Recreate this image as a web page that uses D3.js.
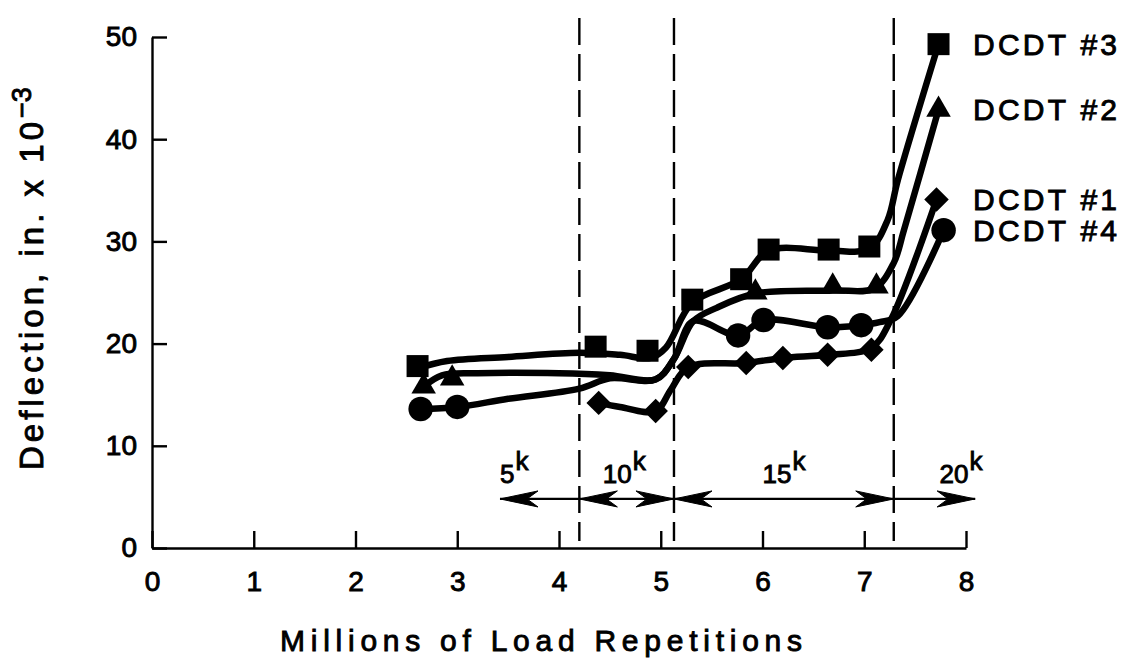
<!DOCTYPE html>
<html>
<head>
<meta charset="utf-8">
<script src="https://cdn.jsdelivr.net/npm/d3@7"></script>
<style>
  html, body { margin: 0; padding: 0; background: #fff; }
  svg { display: block; }
  text { font-family: "Liberation Sans", Arial, Helvetica, sans-serif; fill: #000; }
</style>
</head>
<body>
<svg id="chart" width="1121" height="664"></svg>
<script>
// ---- Axis ticks ----
const xTicks = [0, 1, 2, 3, 4, 5, 6, 7, 8];
const yTicks = [0, 10, 20, 30, 40, 50];

// ---- Sensor names ----
const sensors = ["DCDT #3", "DCDT #2", "DCDT #1", "DCDT #4"];

// ---- Measured deflections (x: millions of repetitions, y: in. x 10^-3) ----
const dcdt3X = [2.61, 4.36, 4.87, 5.31, 5.79, 6.06, 6.65, 7.05, 7.73];
const dcdt3Y = [17.8, 19.7, 19.3, 24.3, 26.3, 29.2, 29.2, 29.5, 49.3];

const dcdt2X = [2.67, 2.95, 5.93, 6.69, 7.12, 7.73];
const dcdt2Y = [15.8, 16.6, 25.0, 25.6, 25.6, 42.9];

const dcdt1X = [4.39, 4.95, 5.27, 5.84, 6.20, 6.64, 7.07, 7.71];
const dcdt1Y = [14.2, 13.4, 17.7, 18.1, 18.6, 18.9, 19.4, 34.1];

const dcdt4X = [2.64, 3.00, 5.76, 6.01, 6.64, 6.97, 7.78];
const dcdt4Y = [13.6, 13.8, 20.8, 22.3, 21.6, 21.8, 31.1];

// ---- Hand-faired trend curves drawn through each sensor's readings ----
const curve3X = [2.61, 2.90, 3.50, 4.20, 4.60, 4.90, 5.05, 5.31, 5.79, 6.06, 6.65, 7.05, 7.23, 7.33, 7.73];
const curve3Y = [17.6, 18.3, 18.7, 19.1, 18.9, 18.6, 19.6, 24.0, 26.3, 29.1, 29.1, 29.3, 32.1, 36.0, 49.3];

const curve2X = [2.67, 2.85, 3.20, 4.00, 4.50, 4.95, 5.13, 5.32, 5.55, 5.93, 6.69, 7.10, 7.29, 7.39, 7.73];
const curve2Y = [15.8, 16.9, 17.1, 17.1, 16.9, 16.5, 18.5, 22.2, 23.5, 24.9, 25.2, 25.4, 27.9, 31.1, 42.9];

const curve1X = [4.39, 4.60, 4.95, 5.10, 5.27, 5.84, 6.20, 6.64, 7.07, 7.26, 7.71];
const curve1Y = [14.2, 13.8, 13.4, 15.5, 17.7, 18.1, 18.6, 18.9, 19.6, 22.3, 34.1];

const curve4X = [2.64, 3.00, 3.50, 4.20, 4.50, 4.95, 5.13, 5.32, 5.76, 6.01, 6.64, 6.97, 7.15, 7.33, 7.78];
const curve4Y = [13.6, 13.8, 14.6, 15.6, 16.6, 16.5, 18.5, 22.2, 20.8, 22.3, 21.6, 21.8, 22.1, 22.7, 31.1];

// ---- Load levels (kips) and the repetition ranges where each was applied ----
const loadLabels = ["5", "10", "15", "20"];
const loadStart = [3.42, 4.20, 5.13, 7.29];
const loadEnd = [4.20, 5.13, 7.29, 8.09];
const loadHeads = ["start", "both", "both", "end"];
const loadLabelX = [3.42, 4.43, 6.00, 7.74];
const loadChanges = [4.20, 5.13, 7.29];
const arrowLevel = 4.8;

// ---- Layout ----
const svg = d3.select("#chart");
const x = d3.scaleLinear().domain([0, 8]).range([152, 966]);
const y = d3.scaleLinear().domain([0, 50]).range([548, 37]);

const tickFont = 28;
const ink = 0.9; // stroke added to glyphs for a heavier print weight

// x axis
const gx = svg.append("g").attr("transform", `translate(0,${y(0)})`)
  .call(d3.axisBottom(x).tickValues(xTicks).tickFormat(d3.format("d"))
    .tickSizeInner(-17).tickSizeOuter(0).tickPadding(23));
// y axis
const gy = svg.append("g").attr("transform", `translate(${x(0)},0)`)
  .call(d3.axisLeft(y).tickValues(yTicks).tickFormat(d3.format("d"))
    .tickSizeInner(-15).tickSizeOuter(0).tickPadding(15));

[gx, gy].forEach(g => {
  g.select(".domain").attr("stroke", "#000").attr("stroke-width", 2.4);
  g.selectAll(".tick line").attr("stroke", "#000").attr("stroke-width", 2.4);
  g.selectAll(".tick text")
    .attr("font-family", "'Liberation Sans', Arial, sans-serif")
    .attr("font-size", tickFont)
    .attr("fill", "#000")
    .attr("stroke", "#000").attr("stroke-width", ink);
});

// dashed lines marking each change of load
svg.append("g").selectAll("line").data(loadChanges).join("line")
  .attr("x1", d => x(d)).attr("x2", d => x(d))
  .attr("y1", 18).attr("y2", 541)
  .attr("stroke", "#000").attr("stroke-width", 2.4)
  .attr("stroke-dasharray", "27,9");

// load range arrows
const arrowY = y(arrowLevel);
const headPath = "M0,0 L38,-8 L27,0 L38,8 Z"; // tip at origin, pointing left
const arrows = svg.append("g");
loadStart.forEach((s, i) => {
  const x0 = x(s), x1 = x(loadEnd[i]);
  arrows.append("line")
    .attr("x1", x0).attr("x2", x1).attr("y1", arrowY).attr("y2", arrowY)
    .attr("stroke", "#000").attr("stroke-width", 2.2);
  if (loadHeads[i] === "start" || loadHeads[i] === "both") {
    arrows.append("path").attr("d", headPath)
      .attr("transform", `translate(${x0},${arrowY})`)
      .attr("fill", "#000").attr("stroke", "#000").attr("stroke-width", 1);
  }
  if (loadHeads[i] === "end" || loadHeads[i] === "both") {
    arrows.append("path").attr("d", headPath)
      .attr("transform", `translate(${x1},${arrowY}) scale(-1,1)`)
      .attr("fill", "#000").attr("stroke", "#000").attr("stroke-width", 1);
  }
  const t = arrows.append("text")
    .attr("x", x(loadLabelX[i])).attr("y", arrowY - 16)
    .attr("font-size", 26)
    .attr("stroke", "#000").attr("stroke-width", ink);
  t.append("tspan").text(loadLabels[i]);
  t.append("tspan").attr("dy", -13).attr("dx", 1).text("k");
});

// trend curves
const line = d3.line()
  .x(d => x(d[0])).y(d => y(d[1]))
  .curve(d3.curveCatmullRom.alpha(0.5));

const curves = [
  [curve3X, curve3Y],
  [curve2X, curve2Y],
  [curve1X, curve1Y],
  [curve4X, curve4Y]
];
svg.append("g").selectAll("path").data(curves).join("path")
  .attr("d", c => line(c[0].map((v, i) => [v, c[1][i]])))
  .attr("fill", "none").attr("stroke", "#000")
  .attr("stroke-width", 6.5).attr("stroke-linejoin", "round").attr("stroke-linecap", "round");

// markers
const series = [
  { xs: dcdt3X, ys: dcdt3Y, symbol: d3.symbolSquare, size: 484, rot: 0 },
  { xs: dcdt2X, ys: dcdt2Y, symbol: d3.symbolTriangle, size: 260, rot: 0 },
  { xs: dcdt1X, ys: dcdt1Y, symbol: d3.symbolSquare, size: 300, rot: 45 },
  { xs: dcdt4X, ys: dcdt4Y, symbol: d3.symbolCircle, size: 470, rot: 0 }
];
series.forEach((s, si) => {
  const pts = s.xs.map((v, i) => [v, s.ys[i]]);
  svg.append("g").selectAll("path").data(pts).join("path")
    .attr("d", d3.symbol().type(s.symbol).size(s.size))
    .attr("transform", d => `translate(${x(d[0])},${y(d[1])}) rotate(${s.rot})`)
    .attr("fill", "#000");

  // sensor label beside the last reading
  svg.append("text")
    .attr("x", 973).attr("y", y(pts[pts.length - 1][1]))
    .attr("dy", "0.36em")
    .attr("font-size", 30)
    .attr("textLength", 144).attr("lengthAdjust", "spacing")
    .attr("stroke", "#000").attr("stroke-width", ink)
    .text(sensors[si]);
});

// axis titles
svg.append("text")
  .attr("x", 280).attr("y", 651)
  .attr("font-size", 30)
  .attr("textLength", 522).attr("lengthAdjust", "spacing")
  .attr("stroke", "#000").attr("stroke-width", ink)
  .text("Millions of Load Repetitions");

const yTitle = svg.append("g").attr("transform", "translate(43,470) rotate(-90)");
yTitle.append("text")
  .attr("x", 0).attr("y", 0)
  .attr("font-size", 33)
  .attr("textLength", 348).attr("lengthAdjust", "spacing")
  .attr("stroke", "#000").attr("stroke-width", ink)
  .text("Deflection, in. x 10");
yTitle.append("text")
  .attr("x", 352).attr("y", -12)
  .attr("font-size", 27)
  .attr("stroke", "#000").attr("stroke-width", ink)
  .text("\u22123");
</script>
</body>
</html>
